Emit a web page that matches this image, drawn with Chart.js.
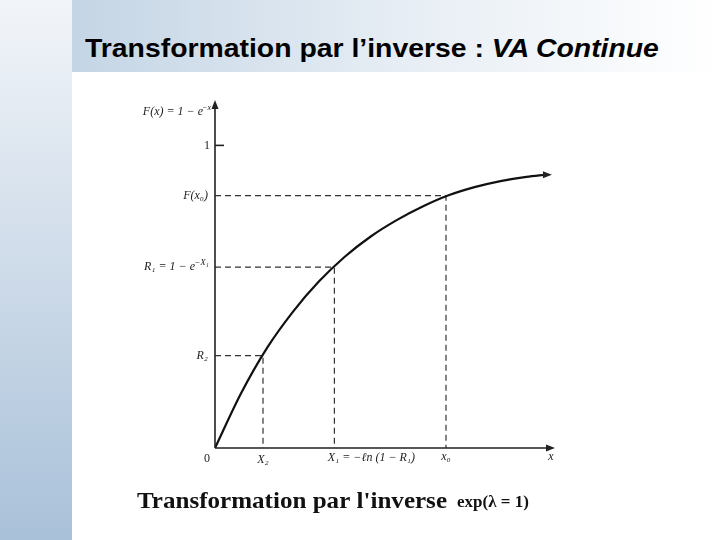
<!DOCTYPE html>
<html><head><meta charset="utf-8">
<script src="https://cdn.jsdelivr.net/npm/chart.js@4"></script>
<style>
html,body{margin:0;padding:0;width:720px;height:540px;overflow:hidden;background:#fff}
#bgL{position:absolute;left:0;top:0;width:72px;height:540px;background:linear-gradient(to bottom,#f2f5f9 0%,#d5e0ec 40%,#a9c1d9 100%)}
#bgT{position:absolute;left:72px;top:0;width:648px;height:72px;background:linear-gradient(to right,#c4d5e5 0%,#e6edf4 50%,#ffffff 100%)}
#title{position:absolute;left:85px;top:34px;font:bold 25px "Liberation Sans",Arial,sans-serif;color:#000;white-space:nowrap;transform-origin:0 0;transform:scaleX(1.135)}
#wrap{position:absolute;left:0;top:0;width:720px;height:540px}
</style></head><body>
<div id="bgL"></div><div id="bgT"></div>
<div id="title">Transformation par l’inverse : <i>VA Continue</i></div>
<div id="wrap"><canvas id="c" width="720" height="540"></canvas></div>
<script>
const curveX = [0,0.2,0.4,0.6,0.8,1.0,1.2,1.4,1.6,1.8,2.0,2.2,2.4,2.55];
const curveY = [0,0.18,0.33,0.45,0.55,0.632,0.699,0.753,0.798,0.835,0.862,0.882,0.896,0.903];
const markX = [0.37,0.92,1.78];
const markY = [0.305,0.598,0.834];
const xMax = 2.62, yMax = 1.15;

const curve = curveX.map((x,i)=>({x, y:curveY[i]}));
const dashSets = markX.map((x,i)=>({
  data:[{x:0,y:markY[i]},{x:x,y:markY[i]},{x:x,y:0}],
  showLine:true,borderColor:'#333',borderWidth:1.2,borderDash:[6,4],pointRadius:0,fill:false
}));

const deco = {
  id:'deco',
  afterDatasetsDraw(ch){
    const c=ch.ctx, xs=ch.scales.x, ys=ch.scales.y;
    const px=v=>xs.getPixelForValue(v), py=v=>ys.getPixelForValue(v);
    const ox=px(0), oy=py(0);
    c.save();
    c.strokeStyle='#222'; c.fillStyle='#222'; c.lineWidth=1.6;
    c.beginPath(); c.moveTo(ox,oy); c.lineTo(px(xMax)-6,oy); c.moveTo(ox,oy); c.lineTo(ox,py(yMax)+6); c.stroke();
    const arrow=(x,y,dx,dy)=>{c.beginPath();c.moveTo(x,y);c.lineTo(x-dx*9-dy*3.5,y-dy*9-dx*3.5);c.lineTo(x-dx*9+dy*3.5,y-dy*9+dx*3.5);c.closePath();c.fill();};
    arrow(px(xMax),oy,1,0); arrow(ox,py(yMax),0,-1);
    c.beginPath(); c.moveTo(ox,py(1)); c.lineTo(ox+9,py(1)); c.stroke();
    const lx=px(curveX[curveX.length-1]), ly=py(curveY[curveY.length-1]);
    arrow(lx+6,ly,1,0);
    c.font='italic 12px "Liberation Serif",serif'; c.fillStyle='#222';
    c.textAlign='right'; c.textBaseline='middle';
    c.fillText('F(x) = 1 − e',ox-12,py(yMax)+12);
    c.font='italic 8px "Liberation Serif",serif'; c.fillText('−x',ox-4,py(yMax)+8);
    c.font='12px "Liberation Serif",serif'; c.fillText('1',ox-5,py(1));
    c.font='italic 12px "Liberation Serif",serif';
    c.fillText('F(x₀)',ox-7,py(markY[2]));
    c.fillText('R₁ = 1 − e',ox-20,py(markY[1]));
    c.font='italic 9px "Liberation Serif",serif'; c.fillText('−X₁',ox-6,py(markY[1])-4);
    c.font='italic 12px "Liberation Serif",serif';
    c.fillText('R₂',ox-7,py(markY[0]));
    c.textAlign='center'; c.textBaseline='top';
    c.font='12px "Liberation Serif",serif'; c.fillText('0',ox-8,oy+5);
    c.font='italic 12px "Liberation Serif",serif';
    c.fillText('X₂',px(markX[0]),oy+6);
    c.fillText('X₁ = −ℓn (1 − R₁)',px(markX[1])+37,oy+4);
    c.fillText('x₀',px(markX[2]),oy+3);
    c.fillText('x',px(xMax)-4,oy+3);
    c.textAlign='left'; c.textBaseline='alphabetic'; c.fillStyle='#111';
    c.font='bold 24px "Liberation Serif",serif';
    const t="Transformation par l'inverse", w=c.measureText(t).width;
    c.save(); c.translate(137,508); c.scale(310/w,1); c.fillText(t,0,0); c.restore();
    c.font='bold 17px "Liberation Serif",serif';
    c.fillText('exp(λ = 1)',457,507);
    c.restore();
  }
};

new Chart(document.getElementById('c'),{
  type:'scatter',
  data:{datasets:[
    {data:curve,showLine:true,borderColor:'#111',borderWidth:2.2,pointRadius:0,cubicInterpolationMode:'monotone',fill:false},
    ...dashSets
  ]},
  options:{
    responsive:false,animation:false,
    layout:{padding:{left:215,right:165,top:100,bottom:92}},
    plugins:{legend:{display:false},tooltip:{enabled:false}},
    scales:{
      x:{type:'linear',min:0,max:xMax,display:false},
      y:{type:'linear',min:0,max:yMax,display:false}
    }
  },
  plugins:[deco]
});
</script></body></html>
